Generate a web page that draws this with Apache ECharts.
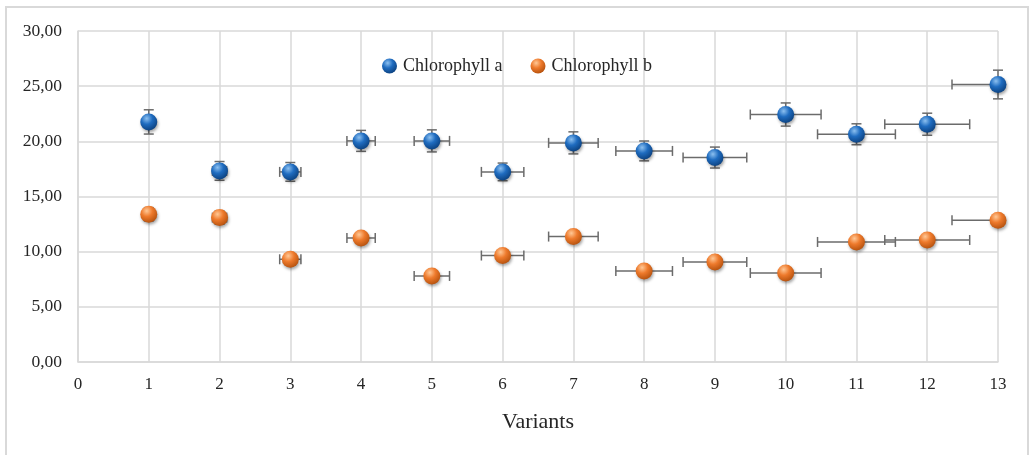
<!DOCTYPE html>
<html>
<head>
<meta charset="utf-8">
<script src="https://cdn.jsdelivr.net/npm/echarts@6/dist/echarts.min.js"></script>
<style>
html,body{margin:0;padding:0;background:#fff;}
#c{width:1030px;height:455px;}
</style>
</head>
<body>
<div id="c"></div>
<script>
// ---- data ----
var variants = [1, 2, 3, 4, 5, 6, 7, 8, 9, 10, 11, 12, 13];
var chlA     = [21.76, 17.32, 17.23, 20.04, 20.04, 17.23, 19.86, 19.13, 18.53, 22.43, 20.64, 21.55, 25.15];
var chlAErr  = [1.10, 0.85, 0.85, 0.95, 1.00, 0.80, 1.00, 0.90, 0.95, 1.05, 0.95, 1.00, 1.30];
var chlB     = [13.39, 13.09, 9.31, 11.24, 7.80, 9.65, 11.37, 8.25, 9.07, 8.07, 10.88, 11.06, 12.85];
var chlBErr  = [0.60, 0.60, 0.40, 0.40, 0.40, 0.40, 0.40, 0.40, 0.40, 0.40, 0.40, 0.40, 0.40];
var xErr     = [0.05, 0.10, 0.15, 0.20, 0.25, 0.30, 0.35, 0.40, 0.45, 0.50, 0.55, 0.60, 0.65];
var seriesNames = ['Chlorophyll a', 'Chlorophyll b'];
var axisTitleX = 'Variants';

var FONT = '"Liberation Serif", "DejaVu Serif", serif';

function pts(ys) { return variants.map(function (v, i) { return [v, ys[i]]; }); }
function errs(ys, ye) { return variants.map(function (v, i) { return [v, ys[i], xErr[i], ye[i]]; }); }

function sphere(light, mid, dark) {
  return new echarts.graphic.RadialGradient(0.38, 0.3, 0.75, [
    { offset: 0, color: light },
    { offset: 0.45, color: mid },
    { offset: 1, color: dark }
  ]);
}

function renderErr(params, api) {
  var cs = params.coordSys;
  var x = api.value(0), y = api.value(1), ex = api.value(2), ey = api.value(3);
  var c = api.coord([x, y]);
  var l = api.coord([x - ex, y]), r = api.coord([x + ex, y]);
  var t = api.coord([x, y + ey]), b = api.coord([x, y - ey]);
  var minX = cs.x, maxX = cs.x + cs.width;
  var cap = 5;
  var st = { stroke: '#6b6b6b', lineWidth: 1.5 };
  var children = [];
  var lx = Math.max(l[0], minX), rx = Math.min(r[0], maxX);
  children.push({ type: 'line', shape: { x1: lx, y1: c[1], x2: rx, y2: c[1] }, style: st });
  if (l[0] >= minX) children.push({ type: 'line', shape: { x1: l[0], y1: c[1] - cap, x2: l[0], y2: c[1] + cap }, style: st });
  if (r[0] <= maxX) children.push({ type: 'line', shape: { x1: r[0], y1: c[1] - cap, x2: r[0], y2: c[1] + cap }, style: st });
  children.push({ type: 'line', shape: { x1: c[0], y1: t[1], x2: c[0], y2: b[1] }, style: st });
  children.push({ type: 'line', shape: { x1: c[0] - cap, y1: t[1], x2: c[0] + cap, y2: t[1] }, style: st });
  children.push({ type: 'line', shape: { x1: c[0] - cap, y1: b[1], x2: c[0] + cap, y2: b[1] }, style: st });
  return { type: 'group', children: children };
}

var chart = echarts.init(document.getElementById('c'), null, { renderer: 'canvas' });
var blue = sphere('#8cc0f0', '#1f6cc0', '#0b3f7c');
var orange = sphere('#ffc896', '#ee7a2c', '#b24f0c');

chart.setOption({
  animation: false,
  backgroundColor: '#ffffff',
  graphic: [{
    type: 'rect', z: -10,
    shape: { x: 6, y: 7, width: 1022, height: 460 },
    style: { fill: '#ffffff', stroke: '#d9d9d9', lineWidth: 2 }
  }],
  grid: { left: 78, right: 32, top: 31, bottom: 93, containLabel: false },
  legend: {
    left: 377, top: 52,
    itemWidth: 15, itemHeight: 15, itemGap: 28,
    icon: 'circle',
    textStyle: { fontFamily: FONT, fontSize: 18, color: '#262626', padding: [0, 0, 0, 1] },
    data: seriesNames
  },
  xAxis: {
    type: 'value', min: 0, max: 13, interval: 1,
    name: axisTitleX, nameLocation: 'middle', nameGap: 49,
    nameTextStyle: { fontFamily: FONT, fontSize: 22, color: '#262626' },
    axisLine: { show: true, lineStyle: { color: '#d9d9d9', width: 1.5 } },
    axisTick: { show: false },
    axisLabel: { fontFamily: FONT, fontSize: 17, color: '#262626', margin: 14 },
    splitLine: { show: true, lineStyle: { color: '#d9d9d9', width: 1.5 } }
  },
  yAxis: {
    type: 'value', min: 0, max: 30, interval: 5,
    axisLine: { show: true, lineStyle: { color: '#d9d9d9', width: 1.5 } },
    axisTick: { show: false },
    axisLabel: {
      fontFamily: FONT, fontSize: 17.5, color: '#262626', margin: 16,
      formatter: function (v) { return v.toFixed(2).replace('.', ','); }
    },
    splitLine: { show: true, lineStyle: { color: '#d9d9d9', width: 1.5 } }
  },
  series: [
    {
      name: 'errA', type: 'custom', renderItem: renderErr,
      data: errs(chlA, chlAErr), z: 2, silent: true
    },
    {
      name: 'errB', type: 'custom', renderItem: renderErr,
      data: errs(chlB, chlBErr), z: 2, silent: true
    },
    {
      name: seriesNames[0], type: 'scatter', data: pts(chlA), symbolSize: 17, z: 5, clip: false,
      itemStyle: { color: blue, opacity: 1, shadowBlur: 3, shadowOffsetX: 1, shadowOffsetY: 2, shadowColor: 'rgba(0,0,0,0.35)' }
    },
    {
      name: seriesNames[1], type: 'scatter', data: pts(chlB), symbolSize: 17, z: 5, clip: false,
      itemStyle: { color: orange, opacity: 1, shadowBlur: 3, shadowOffsetX: 1, shadowOffsetY: 2, shadowColor: 'rgba(0,0,0,0.35)' }
    }
  ]
});
</script>
</body>
</html>
